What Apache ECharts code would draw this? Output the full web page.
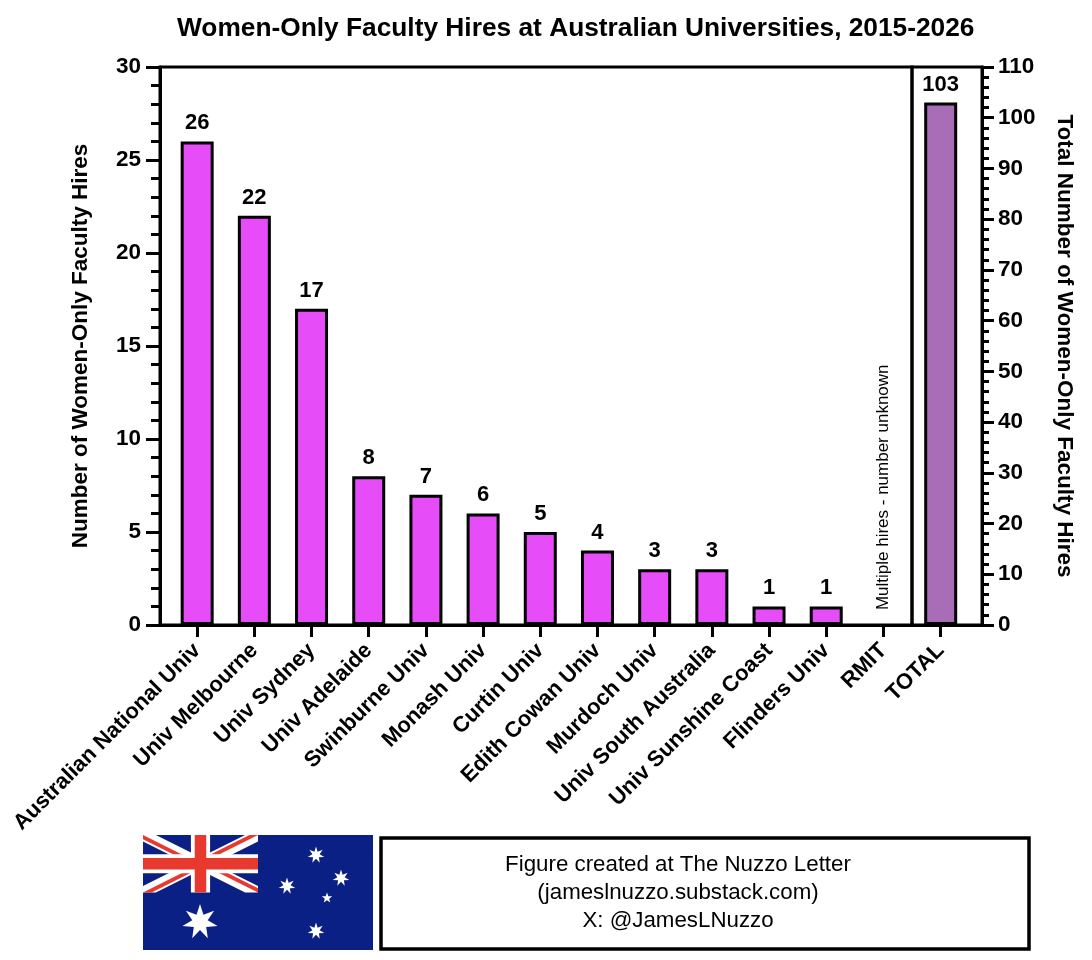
<!DOCTYPE html>
<html>
<head>
<meta charset="utf-8">
<title>Women-Only Faculty Hires at Australian Universities</title>
<script src="https://cdn.jsdelivr.net/npm/echarts@6/dist/echarts.min.js"></script>
<style>
  html, body { margin: 0; padding: 0; background: #fff; }
  #chart { width: 1092px; height: 960px; }
</style>
</head>
<body>
<div id="chart"></div>
<script type="text/javascript">
// data
var universities = ['Australian National Univ', 'Univ Melbourne', 'Univ Sydney', 'Univ Adelaide',
  'Swinburne Univ', 'Monash Univ', 'Curtin Univ', 'Edith Cowan Univ', 'Murdoch Univ',
  'Univ South Australia', 'Univ Sunshine Coast', 'Flinders Univ', 'RMIT'];
var hires = [26, 22, 17, 8, 7, 6, 5, 4, 3, 3, 1, 1, null];
var totalNames = ['TOTAL'];
var totalHires = [103];
var unknownNote = 'Multiple hires - number unknown';
var noteUniversity = 'RMIT';
var footerLines = ['Figure created at The Nuzzo Letter', '(jameslnuzzo.substack.com)', 'X: @JamesLNuzzo'];

var FONT = 'Liberation Sans, Arial, Helvetica, sans-serif';
var uniIdx = universities.map(function (u, i) { return i; });

var uniData = [];
hires.forEach(function (v, i) { if (v !== null) uniData.push([i, v]); });
var totalData = totalHires.map(function (v, i) { return [i, v]; });

// star polygon helper for the flag
function star(cx, cy, r, n, ratio) {
  var pts = [];
  for (var k = 0; k < n * 2; k++) {
    var rr = k % 2 === 0 ? r : r * ratio;
    var a = -Math.PI / 2 + k * Math.PI / n;
    pts.push([cx + rr * Math.cos(a), cy + rr * Math.sin(a)]);
  }
  return pts;
}
// Union Jack in 60x30 units, scaled into the canton
var s = 115 / 60;
function sc(pts) { return pts.map(function (p) { return [p[0] * s, p[1] * s]; }); }

var flagBlue = '#0A2084', flagRed = '#E8392E';
var flag = {
  type: 'group', x: 143, y: 835,
  children: [
    { type: 'rect', shape: { x: 0, y: 0, width: 230, height: 115 }, style: { fill: flagBlue }, z2: 1 },
    { type: 'polygon', shape: { points: sc([[0,0],[6.708,0],[60,26.646],[60,30],[53.29,30],[0,3.354]]) }, style: { fill: '#fff' }, z2: 2 },
    { type: 'polygon', shape: { points: sc([[0,30],[6.708,30],[60,3.354],[60,0],[53.29,0],[0,26.646]]) }, style: { fill: '#fff' }, z2: 2 },
    { type: 'polygon', shape: { points: sc([[0,0],[30,15],[30,17.236],[0,2.236]]) }, style: { fill: flagRed }, z2: 3 },
    { type: 'polygon', shape: { points: sc([[30,15],[60,30],[60,27.764],[30,12.764]]) }, style: { fill: flagRed }, z2: 3 },
    { type: 'polygon', shape: { points: sc([[0,30],[30,15],[30,17.236],[4.472,30]]) }, style: { fill: flagRed }, z2: 3 },
    { type: 'polygon', shape: { points: sc([[30,15],[60,0],[55.528,0],[30,12.764]]) }, style: { fill: flagRed }, z2: 3 },
    { type: 'rect', shape: { x: 0, y: 10 * s, width: 60 * s, height: 10 * s }, style: { fill: '#fff' }, z2: 4 },
    { type: 'rect', shape: { x: 25 * s, y: 0, width: 10 * s, height: 30 * s }, style: { fill: '#fff' }, z2: 4 },
    { type: 'rect', shape: { x: 0, y: 12 * s, width: 60 * s, height: 6 * s }, style: { fill: flagRed }, z2: 5 },
    { type: 'rect', shape: { x: 27 * s, y: 0, width: 6 * s, height: 30 * s }, style: { fill: flagRed }, z2: 5 },
    // Commonwealth star + Southern Cross
    { type: 'polygon', shape: { points: star(57, 87, 18, 7, 0.44) }, style: { fill: '#fff' }, z2: 6 },
    { type: 'polygon', shape: { points: star(173, 20, 8.5, 7, 0.44) }, style: { fill: '#fff' }, z2: 6 },
    { type: 'polygon', shape: { points: star(198, 43, 8.5, 7, 0.44) }, style: { fill: '#fff' }, z2: 6 },
    { type: 'polygon', shape: { points: star(144, 51, 8.5, 7, 0.44) }, style: { fill: '#fff' }, z2: 6 },
    { type: 'polygon', shape: { points: star(184, 63, 5.5, 5, 0.42) }, style: { fill: '#fff' }, z2: 6 },
    { type: 'polygon', shape: { points: star(173, 96, 8.5, 7, 0.44) }, style: { fill: '#fff' }, z2: 6 }
  ]
};

var footer = {
  type: 'group', x: 381, y: 838,
  children: [
    { type: 'rect', shape: { x: 0, y: 0, width: 648, height: 111 }, style: { fill: '#fff', stroke: '#000', lineWidth: 3.5 } },
    { type: 'text', style: { text: footerLines.join('\n'), x: 297, y: 55, textAlign: 'center', textVerticalAlign: 'middle',
        font: '22.3px ' + FONT, lineHeight: 28, fill: '#000' } }
  ]
};

function xLabel(names) {
  return {
    show: true, customValues: names.map(function (n, i) { return i; }), rotate: 45, margin: 22,
    formatter: function (v) { return names[v]; },
    fontFamily: FONT, fontSize: 22, fontWeight: 'bold', color: '#000'
  };
}

var myChart = echarts.init(document.getElementById('chart'));
var option = {
  backgroundColor: '#fff',
  animation: false,
  textStyle: { fontFamily: FONT },
  title: {
    text: 'Women-Only Faculty Hires at Australian Universities, 2015-2026',
    left: 172, top: 11,
    textStyle: { fontFamily: FONT, fontSize: 26.3, fontWeight: 'bold', color: '#000' }
  },
  grid: [
    { left: 160, right: 180, top: 67, bottom: 335, show: true, borderColor: '#000', borderWidth: 3, backgroundColor: 'transparent' },
    { left: 912, right: 110, top: 67, bottom: 335, show: true, borderColor: '#000', borderWidth: 3, backgroundColor: 'transparent' }
  ],
  xAxis: [
    {
      type: 'value', gridIndex: 0, min: -0.65, max: 12.5,
      axisLine: { show: true, onZero: false, lineStyle: { color: '#000', width: 3 } },
      axisTick: { show: true, customValues: uniIdx, length: 12, lineStyle: { color: '#000', width: 3 } },
      axisLabel: xLabel(universities),
      splitLine: { show: false }
    },
    {
      type: 'value', gridIndex: 1, min: -0.5, max: 0.72,
      axisLine: { show: true, onZero: false, lineStyle: { color: '#000', width: 3 } },
      axisTick: { show: true, customValues: [0], length: 12, lineStyle: { color: '#000', width: 3 } },
      axisLabel: xLabel(totalNames),
      splitLine: { show: false }
    }
  ],
  yAxis: [
    {
      type: 'value', gridIndex: 0, position: 'left', min: 0, max: 30, interval: 5,
      name: 'Number of Women-Only Faculty Hires', nameLocation: 'middle', nameGap: 68, nameRotate: 90,
      nameTextStyle: { fontFamily: FONT, fontSize: 22.5, fontWeight: 'bold', color: '#000' },
      axisLine: { show: true, onZero: false, lineStyle: { color: '#000', width: 3 } },
      axisTick: { show: true, length: 14, lineStyle: { color: '#000', width: 3 } },
      minorTick: { show: true, splitNumber: 5, length: 9, lineStyle: { color: '#000', width: 3 } },
      axisLabel: { margin: 19, fontFamily: FONT, fontSize: 22.5, fontWeight: 'bold', color: '#000' },
      splitLine: { show: false }
    },
    {
      type: 'value', gridIndex: 1, position: 'right', min: 0, max: 110, interval: 10,
      name: 'Total Number of Women-Only Faculty Hires', nameLocation: 'middle', nameGap: 71, nameRotate: -90,
      nameTextStyle: { fontFamily: FONT, fontSize: 22.5, fontWeight: 'bold', color: '#000' },
      axisLine: { show: true, onZero: false, lineStyle: { color: '#000', width: 3 } },
      axisTick: { show: true, length: 12, lineStyle: { color: '#000', width: 3 } },
      minorTick: { show: true, splitNumber: 5, length: 7, lineStyle: { color: '#000', width: 3 } },
      axisLabel: { margin: 16, fontFamily: FONT, fontSize: 22.5, fontWeight: 'bold', color: '#000' },
      splitLine: { show: false }
    }
  ],
  series: [
    {
      name: 'Universities', type: 'bar', xAxisIndex: 0, yAxisIndex: 0,
      data: uniData, barWidth: 33,
      itemStyle: { color: '#E64CF7', borderColor: '#000', borderWidth: 3 },
      label: {
        show: true, position: 'top', distance: 7,
        formatter: function (p) { return p.value[1]; },
        fontFamily: FONT, fontSize: 22, fontWeight: 'bold', color: '#000'
      },
      markPoint: {
        symbol: 'circle', symbolSize: 0, silent: true,
        data: [{
          coord: [universities.indexOf(noteUniversity), 0.8],
          label: {
            show: true, formatter: unknownNote, position: 'inside', rotate: 90,
            align: 'left', verticalAlign: 'middle',
            fontFamily: FONT, fontSize: 17, fontWeight: 'normal', color: '#000'
          }
        }]
      }
    },
    {
      name: 'Total', type: 'bar', xAxisIndex: 1, yAxisIndex: 1,
      data: totalData, barWidth: 33,
      itemStyle: { color: '#A86DB6', borderColor: '#000', borderWidth: 3 },
      label: {
        show: true, position: 'top', distance: 7,
        formatter: function (p) { return p.value[1]; },
        fontFamily: FONT, fontSize: 22, fontWeight: 'bold', color: '#000'
      }
    }
  ],
  graphic: [flag, footer]
};
myChart.setOption(option);
</script>
</body>
</html>
